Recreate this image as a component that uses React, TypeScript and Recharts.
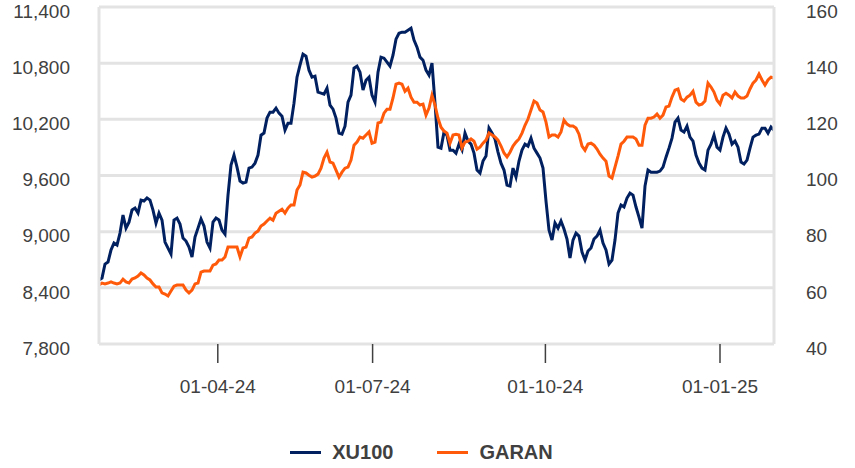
import React from 'react'
import { LineChart, Line, XAxis, YAxis, CartesianGrid, Legend } from 'recharts'

// daily closes, late Jan 2024 -> late Jan 2025
const xu100 = [
  8483, 8505, 8654, 8675, 8804, 8878, 8857, 8985, 9177, 9038,
  9102, 9231, 9252, 9199, 9337, 9327, 9359, 9337, 9231, 9092,
  9199, 9124, 8889, 8825, 8761, 9124, 9145, 9081, 8932, 8900,
  8836, 8729, 8942, 9038, 9135, 9060, 8889, 8825, 9102, 9145,
  9124, 9017, 8974, 9391, 9711, 9818, 9690, 9540, 9519, 9530,
  9679, 9690, 9732, 9818, 10031, 10053, 10213, 10277, 10277, 10320,
  10266, 10234, 10085, 10159, 10159, 10373, 10650, 10779, 10896, 10875,
  10725, 10650, 10661, 10490, 10480, 10469, 10533, 10352, 10309, 10213,
  10053, 10042, 10127, 10384, 10458, 10747, 10768, 10704, 10512, 10618,
  10650, 10458, 10384, 10704, 10864, 10853, 10811, 10768, 10885, 11056,
  11120, 11131, 11131, 11152, 11174, 11046, 10971, 10864, 10832, 10725,
  10672, 10800, 10373, 9903, 9892, 10063, 10031, 9871, 9871, 9839,
  9935, 9871, 10053, 9967, 9935, 9839, 9658, 9626, 9754, 9807,
  10106, 10053, 9989, 9850, 9732, 9658, 9497, 9487, 9679, 9583,
  9754, 9871, 9935, 9914, 9999, 9892, 9839, 9786, 9679, 9327,
  9017, 8910, 9092, 9038, 9113, 9028, 8921, 8718, 8910, 8985,
  8953, 8782, 8697, 8793, 8825, 8921, 8953, 9017, 8878, 8804,
  8654, 8697, 8910, 9199, 9284, 9263, 9359, 9412, 9391, 9263,
  9156, 9038, 9487, 9658, 9636, 9636, 9636, 9647, 9690, 9796,
  9892, 9999, 10170, 10213, 10085, 10063, 10127, 10010, 9967, 9818,
  9732, 9679, 9658, 9871, 9935, 10031, 9903, 9871, 10010, 10106,
  10042, 9935, 9967, 9903, 9743, 9722, 9764, 9892, 10010, 10031,
  10042, 10106, 10106, 10053, 10117, 10085,
]

const garan = [
  61.0, 61.7, 61.4, 61.7, 62.1, 61.7, 61.4, 61.7, 63.1, 62.1,
  61.7, 63.1, 63.5, 64.2, 65.3, 64.6, 63.5, 62.8, 61.4, 60.3,
  60.3, 58.2, 57.8, 57.1, 58.9, 60.6, 61.0, 61.0, 61.0, 59.2,
  58.2, 59.2, 61.4, 61.7, 65.6, 66.0, 66.0, 66.0, 68.1, 68.5,
  69.9, 69.9, 71.0, 74.5, 74.5, 74.5, 74.5, 71.0, 74.2, 74.5,
  77.7, 78.1, 79.5, 80.2, 82.0, 82.7, 83.8, 84.8, 84.1, 86.6,
  87.3, 88.0, 86.6, 88.4, 89.5, 89.5, 94.8, 96.6, 101.2, 100.9,
  100.1, 99.4, 99.8, 100.5, 102.6, 106.2, 108.3, 104.8, 104.4, 101.9,
  99.4, 101.2, 102.6, 103.0, 105.5, 110.8, 111.9, 113.7, 113.3, 114.4,
  115.5, 111.5, 111.9, 118.7, 119.0, 122.2, 123.6, 123.6, 127.6, 132.5,
  132.9, 132.5, 130.0, 131.1, 127.9, 126.1, 126.1, 125.1, 125.4, 121.5,
  124.0, 128.6, 125.1, 120.4, 117.2, 115.8, 115.1, 111.5, 114.4, 114.7,
  114.4, 109.8, 111.9, 112.2, 113.0, 112.2, 109.4, 110.1, 111.5, 112.6,
  115.1, 114.4, 113.7, 112.6, 110.5, 108.0, 106.6, 108.3, 110.5, 111.9,
  113.0, 115.1, 117.9, 120.1, 123.3, 126.5, 125.8, 123.3, 122.6, 119.0,
  113.7, 114.4, 114.4, 113.7, 115.5, 119.7, 118.3, 117.6, 117.6, 116.9,
  114.7, 110.5, 109.0, 111.2, 111.5, 110.8, 109.4, 107.6, 106.2, 105.1,
  99.8, 99.1, 103.0, 106.9, 111.2, 112.2, 113.7, 113.7, 113.7, 113.0,
  110.8, 110.8, 117.9, 120.4, 120.4, 120.8, 121.9, 120.4, 121.5, 124.4,
  124.7, 127.9, 130.4, 130.8, 127.2, 126.5, 127.9, 128.6, 130.0, 126.1,
  125.1, 125.4, 126.5, 132.9, 131.5, 129.7, 126.8, 125.4, 128.6, 129.3,
  128.6, 127.6, 129.7, 128.3, 127.6, 127.6, 128.3, 130.8, 132.9, 134.0,
  136.1, 134.0, 132.2, 134.0, 135.0, 134.7,
]

// quarter starts, as positions in the series
const tickPos = [39.6, 91.2, 148.8, 207.0]
const tickLabels = ['01-04-24', '01-07-24', '01-10-24', '01-01-25']

const leftTicks = [7800, 8400, 9000, 9600, 10200, 10800, 11400]
const rightTicks = [40, 60, 80, 100, 120, 140, 160]

const series = [
  { key: 'xu100', name: 'XU100', color: '#002060', axis: 'left' },
  { key: 'garan', name: 'GARAN', color: '#ff5a0a', axis: 'right' },
]

const data = xu100.map((v, i) => ({ i, xu100: v, garan: garan[i] }))

const FONT = '"Liberation Sans", Arial, sans-serif'
const TXT = '#404040'

// y labels sit a few px under their gridline, like the original
function YTick(props: any) {
  const { x, y, payload, textAnchor, fmt } = props
  return (
    <text x={x} y={y + 4} textAnchor={textAnchor} dy="0.355em"
      fill={TXT} fontSize={19} fontFamily={FONT}>
      {fmt ? fmt(payload.value) : payload.value}
    </text>
  )
}

function LegendBox() {
  return (
    <div style={{
      height: 40, boxSizing: 'border-box', paddingTop: 8, paddingRight: 12,
      display: 'flex', justifyContent: 'center', alignItems: 'center',
      fontFamily: FONT, fontWeight: 'bold', fontSize: 20, color: TXT,
    }}>
      {series.map((s, idx) => (
        <div key={s.key} style={{ display: 'flex', alignItems: 'center', marginLeft: idx ? 44 : 0 }}>
          <div style={{ width: 31, height: 3, background: s.color, marginRight: 11 }} />
          <span>{s.name}</span>
        </div>
      ))}
    </div>
  )
}

export default function App() {
  return (
    <div style={{ position: 'absolute', left: 0, top: 0, background: '#fff' }}>
      <LineChart width={855} height={468} data={data} margin={{ top: 7, right: 0, left: 0, bottom: 0 }}>
        <CartesianGrid yAxisId="left" vertical={false} stroke="#e3e3e3" strokeWidth={3} />
        <XAxis
          dataKey="i"
          type="number"
          domain={[0, xu100.length - 1]}
          ticks={tickPos}
          tickFormatter={(v: number) => tickLabels[tickPos.indexOf(v)] ?? ''}
          axisLine={false}
          tickLine={{ stroke: '#404040', strokeWidth: 1.5 }}
          tickSize={19}
          tickMargin={17}
          height={84}
          tick={{ fill: TXT, fontSize: 19, fontFamily: FONT }}
          interval={0}
        />
        <YAxis
          yAxisId="left"
          domain={[7800, 11400]}
          ticks={leftTicks}
          allowDataOverflow
          width={99}
          axisLine={{ stroke: '#e3e3e3', strokeWidth: 3 }}
          tickLine={false}
          tickMargin={23}
          tick={<YTick fmt={(v: number) => v.toLocaleString('en-US')} />}
          interval={0}
        />
        <YAxis
          yAxisId="right"
          orientation="right"
          domain={[40, 160]}
          ticks={rightTicks}
          allowDataOverflow
          width={81}
          axisLine={{ stroke: '#e3e3e3', strokeWidth: 3 }}
          tickLine={false}
          tickMargin={26}
          tick={<YTick />}
          interval={0}
        />
        <Legend verticalAlign="bottom" height={40} content={() => <LegendBox />} />
        {series.map(s => (
          <Line
            key={s.key}
            yAxisId={s.axis}
            dataKey={s.key}
            name={s.name}
            type="linear"
            stroke={s.color}
            strokeWidth={3}
            dot={false}
            isAnimationActive={false}
          />
        ))}
      </LineChart>
    </div>
  )
}
